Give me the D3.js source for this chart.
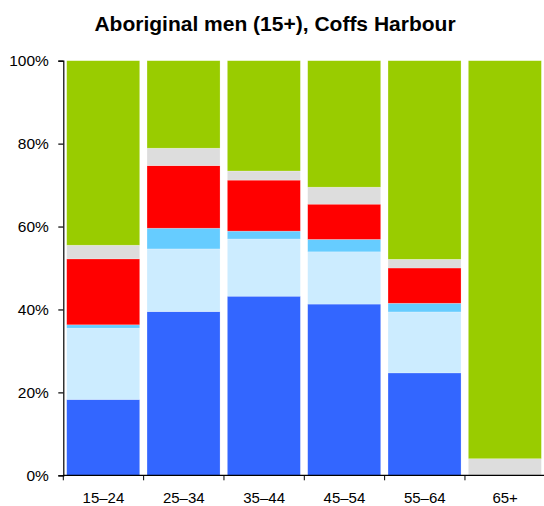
<!DOCTYPE html>
<html><head><meta charset="utf-8">
<script src="https://cdn.jsdelivr.net/npm/d3@7"></script>
<style>body{margin:0;background:#fff}svg{display:block}</style>
</head><body>
<script>
const title = "Aboriginal men (15+), Coffs Harbour";
const categories = ["15–24","25–34","35–44","45–54","55–64","65+"];
const seriesNames = ["s1","s2","s3","s4","s5","s6"];
const seriesColors = ["#3366FF","#CCECFF","#66CCFF","#FF0000","#DDDDDD","#99CC00"];
const s1 = [18.3, 39.5, 43.2, 41.3, 24.7, 0];
const s2 = [17.2, 15.1, 13.8, 12.6, 14.7, 0];
const s3 = [0.8, 5.0, 1.9, 3.0, 2.1, 0];
const s4 = [15.9, 15.1, 12.3, 8.5, 8.5, 0];
const s5 = [3.3, 4.2, 2.2, 4.1, 2.1, 4.0];
const s6 = [44.5, 21.1, 26.6, 30.5, 47.9, 96.0];
const yTicks = [0, 20, 40, 60, 80, 100];

const W = 544, H = 506;
const svg = d3.select("body").append("svg").attr("width", W).attr("height", H);
const font = "'Liberation Sans', Arial, Helvetica, sans-serif";

const x = d3.scaleBand().domain(categories).range([63.3, 545.3]).paddingInner(0).paddingOuter(0);
const y = d3.scaleLinear().domain([0, 100]).range([475.3, 60.7]);

const rows = categories.map((c, i) => {
  const r = {cat: c};
  [s1, s2, s3, s4, s5, s6].forEach((s, k) => r[seriesNames[k]] = s[i]);
  return r;
});
const stacked = d3.stack().keys(seriesNames)(rows);

const barW = 73;
const g = svg.append("g");
g.selectAll("g.series").data(stacked).join("g")
  .attr("fill", (d, i) => seriesColors[i])
  .selectAll("rect").data(d => d.filter(p => p[1] - p[0] > 0)).join("rect")
  .attr("x", d => x(d.data.cat) + 3.4)
  .attr("width", barW)
  .attr("y", d => y(d[1]))
  .attr("height", d => y(d[0]) - y(d[1]))
  .attr("stroke", "rgba(255,255,255,0.35)")
  .attr("stroke-width", 0.6);

// left axis
const yAxis = d3.axisLeft(y).tickValues(yTicks).tickFormat(d => d + "%").tickSizeOuter(0).tickSize(5).tickPadding(9.5);
const ya = svg.append("g").attr("transform", "translate(63.3,0)").call(yAxis);
ya.selectAll("text").attr("font-family", font).attr("font-size", 15.5).attr("fill", "#000");
ya.selectAll("line, path").attr("stroke", "#000").attr("stroke-width", 1.2);

// bottom axis
const xa = svg.append("g").attr("transform", "translate(0,475.3)");
xa.append("line").attr("x1", 63.3).attr("x2", 545.3).attr("stroke", "#000").attr("stroke-width", 1.2);
xa.selectAll("line.tick").data(categories).join("line").attr("class", "tick")
  .attr("x1", d => x(d)).attr("x2", d => x(d)).attr("y1", 0).attr("y2", 5)
  .attr("stroke", "#000").attr("stroke-width", 1);
xa.selectAll("text").data(categories).join("text")
  .attr("x", d => x(d) + x.bandwidth() / 2).attr("y", 28)
  .attr("text-anchor", "middle").attr("font-family", font).attr("font-size", 15).attr("fill", "#000")
  .text(d => d);

svg.append("text").attr("x", 275).attr("y", 31).attr("text-anchor", "middle")
  .attr("font-family", font).attr("font-size", 21).attr("font-weight", "bold").attr("fill", "#000")
  .text(title);
</script>
</body></html>
